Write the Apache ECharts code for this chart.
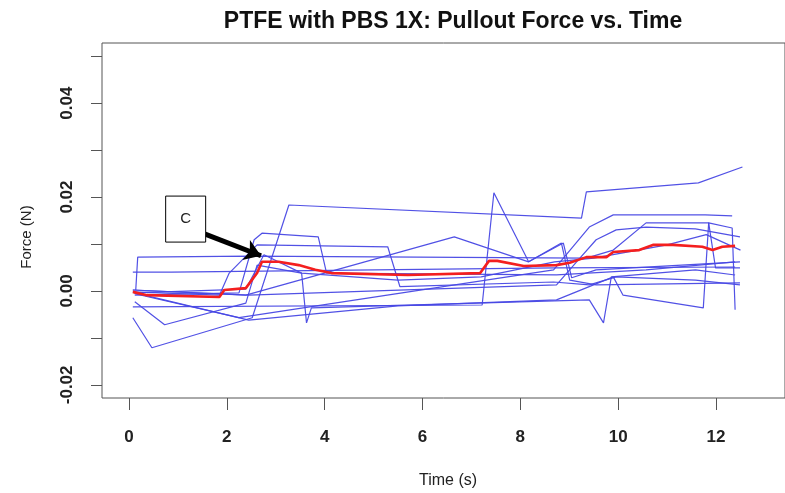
<!DOCTYPE html>
<html><head><meta charset="utf-8">
<script src="https://cdn.jsdelivr.net/npm/echarts@6/dist/echarts.min.js"></script>
<style>html,body{margin:0;padding:0;background:#fff}#c{width:785px;height:493px}</style>
</head><body><div id="c"></div>
<script>
const titleText = 'PTFE with PBS 1X: Pullout Force vs. Time';
const xName = 'Time (s)';
const yName = 'Force (N)';
const xTicks = [0, 2, 4, 6, 8, 10, 12];
const yTicks = [-0.02, -0.01, 0, 0.01, 0.02, 0.03, 0.04, 0.05];
const yLabels = [-0.02, 0, 0.02, 0.04];

// mean force (red)
const meanForce = [[0.08,-0.0002],[0.37,-0.0009],[1.85,-0.0013],[1.95,0.0002],[2.39,0.0006],[2.62,0.0038],[2.72,0.0062],[3.06,0.0062],[3.47,0.0055],[3.81,0.0045],[4.14,0.0038],[5.70,0.0034],[7.18,0.0038],[7.36,0.0064],[7.53,0.0064],[8.07,0.0053],[8.74,0.0055],[9.01,0.0060],[9.35,0.0072],[9.76,0.0072],[9.90,0.0083],[10.43,0.0087],[10.71,0.0098],[11.12,0.0098],[11.72,0.0094],[11.93,0.0087],[12.13,0.0094],[12.39,0.0096]];

// individual trials (blue)
const trial1 = [[0.08,-0.0057],[0.47,-0.0121],[2.52,-0.0057],[3.27,0.0183],[9.25,0.0155],[9.35,0.0211],[11.64,0.0230],[12.54,0.0264]];
const trial2 = [[0.14,0.0002],[0.18,0.0072],[2.45,0.0074],[9.35,0.0070],[9.90,0.0087],[10.57,0.0145],[11.85,0.0145],[11.99,0.0049],[12.49,0.0049]];
const trial3 = [[0.08,-0.0034],[7.22,-0.0030],[7.46,0.0209],[8.17,0.0062],[8.88,0.0102],[9.05,0.0028],[9.55,0.0045],[12.49,0.0062]];
const trial4 = [[0.12,-0.0023],[0.73,-0.0072],[2.39,-0.0026],[2.62,0.0055],[3.53,0.0038],[3.63,-0.0068],[3.73,-0.0036],[9.41,-0.0019],[9.70,-0.0068],[9.86,0.0030],[11.58,0.0045],[12.39,0.0034]];
const trial5 = [[0.08,0.0040],[0.87,0.0040],[8.74,0.0049],[12.39,0.0051]];
const trial6 = [[0.12,-0.0009],[2.25,-0.0004],[2.56,0.0109],[2.72,0.0123],[3.87,0.0115],[4.04,0.0038],[8.74,0.0034],[10.57,0.0045],[12.39,0.0062]];
const trial7 = [[0.08,-0.0002],[1.85,-0.0009],[2.05,0.0038],[2.62,0.0098],[5.29,0.0094],[5.54,0.0009],[8.68,0.0019],[9.41,0.0013],[9.96,0.0030],[11.58,0.0023],[12.49,0.0013]];
const trial8 = [[0.08,0.0002],[2.39,-0.0009],[6.65,0.0115],[8.17,0.0062],[8.84,0.0102],[9.01,0.0023],[9.55,0.0013],[12.49,0.0017]];
const trial9 = [[0.12,-0.0004],[2.45,-0.0062],[5.50,-0.0032],[8.74,-0.0019],[9.90,0.0030],[10.10,-0.0009],[11.74,-0.0036],[11.85,0.0145],[12.33,0.0134],[12.39,-0.0040]];
const trial10 = [[0.08,0.0002],[2.45,-0.0009],[8.74,0.0013],[9.15,0.0062],[9.55,0.0109],[9.96,0.0130],[10.57,0.0136],[11.58,0.0132],[12.49,0.0115]];
const trial11 = [[0.12,-0.0006],[2.25,-0.0057],[8.68,0.0045],[9.41,0.0136],[9.90,0.0162],[11.78,0.0162],[12.33,0.0160]];
const trial12 = [[0.10,-0.0004],[2.39,0.0004],[2.76,0.0077],[3.53,0.0038],[5.50,0.0023],[7.20,0.0030],[8.70,0.0062],[9.50,0.0070],[11.00,0.0098],[11.80,0.0120],[12.50,0.0087]];
const trials = [trial1, trial2, trial3, trial4, trial5, trial6, trial7, trial8, trial9, trial10, trial11, trial12];

// annotation "C" (data coordinates)
const annotLabel = 'C';
const annotBox = [1.16, 0.0153];
const arrowFrom = [1.56, 0.0121];
const arrowTo = [2.70, 0.0075];

const chart = echarts.init(document.getElementById('c'), null, {renderer: 'canvas'});
const FONT = 'Liberation Sans, Arial, sans-serif';

const series = trials.map((d, i) => ({
  type: 'line', name: 'trial ' + (i + 1), data: d, showSymbol: false, symbol: 'none',
  lineStyle: {color: '#4848e4', width: 1.2, opacity: 0.95}, z: 2, silent: true
}));
series.push({
  type: 'line', name: 'mean', data: meanForce, showSymbol: false, symbol: 'none',
  lineStyle: {color: '#f41f1f', width: 2.6}, z: 3, silent: true,
  markLine: {
    silent: true, symbol: ['none', 'arrow'], symbolSize: 16, label: {show: false},
    lineStyle: {color: '#000', width: 5, type: 'solid'},
    data: [[{coord: arrowFrom}, {coord: arrowTo}]]
  }
});

chart.setOption({
  animation: false,
  backgroundColor: '#fff',
  title: {text: titleText, left: 448, top: 5, textAlign: 'center',
    textStyle: {fontFamily: FONT, fontWeight: 'bold', fontSize: 23, color: '#111'}},
  grid: {left: 102, top: 43, right: -5, bottom: 95, show: true, borderColor: '#555', borderWidth: 1, backgroundColor: 'transparent'},
  xAxis: {
    type: 'value', min: -0.55, max: 13.41,
    axisLine: {show: false, onZero: false}, splitLine: {show: false},
    axisTick: {show: true, customValues: xTicks, length: 12, lineStyle: {color: '#555'}},
    axisLabel: {customValues: xTicks, margin: 31, fontFamily: FONT, fontWeight: 'bold', fontSize: 17, color: '#222'}
  },
  yAxis: {
    type: 'value', min: -0.0228, max: 0.0528,
    axisLine: {show: false, onZero: false}, splitLine: {show: false},
    axisTick: {show: true, customValues: yTicks, length: 11, lineStyle: {color: '#555'}},
    axisLabel: {customValues: yLabels, rotate: 90, margin: 26, fontFamily: FONT, fontWeight: 'bold', fontSize: 17, color: '#222',
      formatter: v => v.toFixed(2)}
  },
  series: series
});

const boxC = chart.convertToPixel({gridIndex: 0}, annotBox);
chart.setOption({
  graphic: [
    {type: 'rect', shape: {x: boxC[0] - 20, y: boxC[1] - 23, width: 40, height: 46},
      style: {fill: '#fff', stroke: '#000', lineWidth: 1}, z: 10},
    {type: 'text', x: boxC[0], y: boxC[1], style: {text: annotLabel, fontFamily: FONT, fontSize: 15, fill: '#222', align: 'center', verticalAlign: 'middle'}, z: 11},
    {type: 'text', x: 448, y: 481, style: {text: xName, fontFamily: FONT, fontSize: 16, fill: '#222', align: 'center', verticalAlign: 'middle'}},
    {type: 'text', x: 27, y: 237, rotation: Math.PI / 2, style: {text: yName, fontFamily: FONT, fontSize: 15, fill: '#222', align: 'center', verticalAlign: 'middle'}}
  ]
});
</script></body></html>
